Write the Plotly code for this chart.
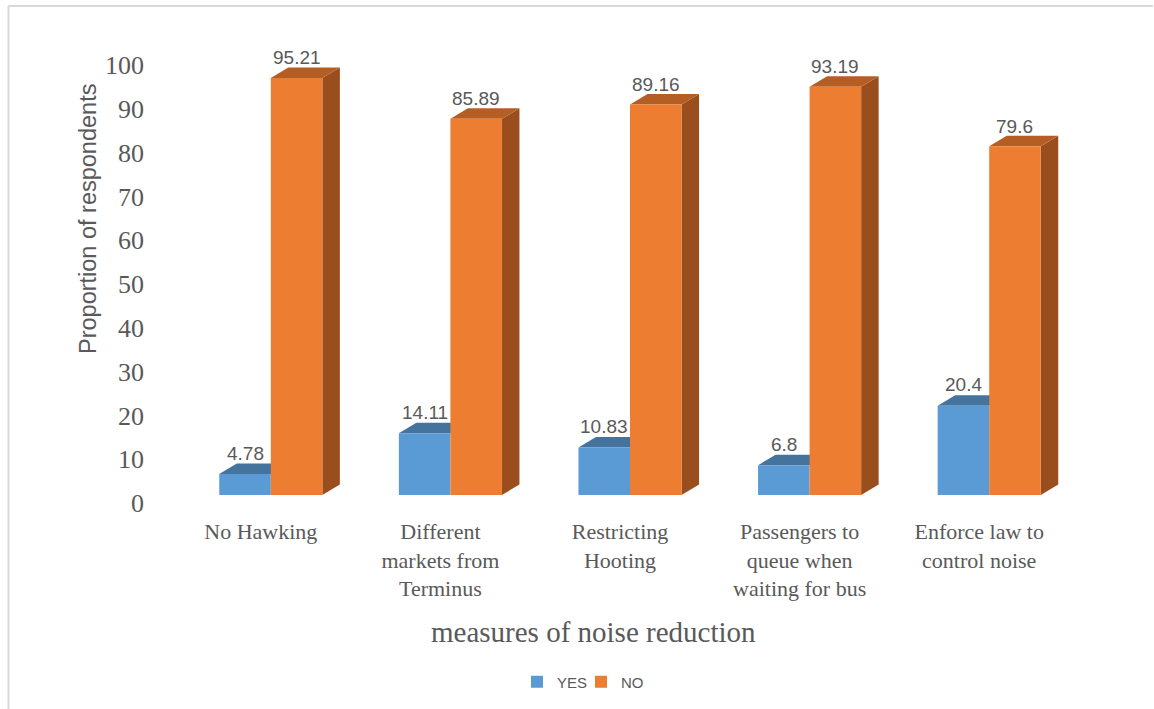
import plotly.graph_objects as go

categories = ["No Hawking", "Different<br>markets from<br>Terminus", "Restricting<br>Hooting",
              "Passengers to<br>queue when<br>waiting for bus", "Enforce law to<br>control noise"]
yes_values = [4.78, 14.11, 10.83, 6.8, 20.4]
no_values = [95.21, 85.89, 89.16, 93.19, 79.6]
y_ticks = [0, 10, 20, 30, 40, 50, 60, 70, 80, 90, 100]

BLUE_FRONT, BLUE_TOP = "#5B9BD5", "#44749E"
ORANGE_FRONT, ORANGE_TOP, ORANGE_SIDE = "#ED7D31", "#B55E23", "#9A4E1E"
TEXT = "#595959"

W, H = 1154, 709
ML, MR, MT, MB = 181, 75, 57, 214
plot_w = W - ML - MR
plot_h = H - MT - MB
n = len(categories)
x_range = [-0.5, n - 0.5]
y_range = [0, 100]
px_per_x = plot_w / (x_range[1] - x_range[0])
px_per_y = plot_h / (y_range[1] - y_range[0])

bargap = 0.426
w = (1 - bargap) / 2          # width of one bar in x units
dx = 17.5 / px_per_x          # depth offset (x units)
dy = 10.5 / px_per_y          # depth offset (y units)

xs = list(range(n))

fig = go.Figure()
fig.add_trace(go.Bar(name="YES", x=xs, y=yes_values, marker_color=BLUE_FRONT,
                     marker_line_width=0, offsetgroup="yes", legend="legend"))
fig.add_trace(go.Bar(name="NO", x=xs, y=no_values, marker_color=ORANGE_FRONT,
                     marker_line_width=0, offsetgroup="no", legend="legend2"))

shapes = []

def poly(points, color):
    path = "M " + " L ".join(f"{px},{py}" for px, py in points) + " Z"
    return dict(type="path", path=path, xref="x", yref="y", fillcolor=color,
                line=dict(width=0), layer="below")

for i in xs:
    yv, nv = yes_values[i], no_values[i]
    b0, b1 = i - w, i
    o0, o1 = i, i + w
    # blue top face
    shapes.append(poly([(b0, yv), (b1, yv), (b1 + dx, yv + dy), (b0 + dx, yv + dy)], BLUE_TOP))
    # orange side face
    shapes.append(poly([(o1, 0), (o1, nv), (o1 + dx, nv + dy), (o1 + dx, dy)], ORANGE_SIDE))
    # orange top face
    shapes.append(poly([(o0, nv), (o1, nv), (o1 + dx, nv + dy), (o0 + dx, nv + dy)], ORANGE_TOP))

# frame lines
shapes.append(dict(type="line", xref="paper", yref="paper",
                   x0=(8 - ML) / plot_w, x1=(1153 - ML) / plot_w,
                   y0=(H - MB - 6) / plot_h, y1=(H - MB - 6) / plot_h,
                   line=dict(color="#D9D9D9", width=2)))
shapes.append(dict(type="line", xref="paper", yref="paper",
                   x0=(8.5 - ML) / plot_w, x1=(8.5 - ML) / plot_w,
                   y0=(H - MB - 6) / plot_h, y1=(H - MB - H) / plot_h,
                   line=dict(color="#D9D9D9", width=2)))

annotations = []
for i in xs:
    annotations.append(dict(x=i - w / 2, y=yes_values[i], xref="x", yref="y",
                            text=f"{yes_values[i]:g}", showarrow=False, yshift=21,
                            font=dict(family="Liberation Sans", size=19, color=TEXT)))
    annotations.append(dict(x=i + w / 2, y=no_values[i], xref="x", yref="y",
                            text=f"{no_values[i]:g}", showarrow=False, yshift=20,
                            font=dict(family="Liberation Sans", size=19, color=TEXT)))

annotations.append(dict(text="Proportion of respondents", textangle=-90, showarrow=False,
                        xref="paper", yref="paper", x=(88 - ML) / plot_w,
                        y=(H - MB - 219) / plot_h, xanchor="center", yanchor="middle",
                        font=dict(family="Liberation Sans", size=23.5, color=TEXT)))
annotations.append(dict(text="measures of noise reduction", showarrow=False,
                        xref="paper", yref="paper", x=(593 - ML) / plot_w,
                        y=(H - MB - 632) / plot_h, xanchor="center", yanchor="middle",
                        font=dict(family="Liberation Serif", size=29, color=TEXT)))

legend_common = dict(orientation="h", xanchor="left", yanchor="middle",
                     y=(H - MB - 682) / plot_h, itemwidth=30, bgcolor="rgba(0,0,0,0)",
                     font=dict(family="Liberation Sans", size=15, color=TEXT))

fig.update_layout(
    width=W, height=H,
    margin=dict(l=ML, r=MR, t=MT, b=MB, autoexpand=False),
    paper_bgcolor="white", plot_bgcolor="white",
    barmode="group", bargap=bargap, bargroupgap=0,
    showlegend=True,
    legend=dict(x=(517 - ML) / plot_w, **legend_common),
    legend2=dict(x=(581 - ML) / plot_w, **legend_common),
    xaxis=dict(range=x_range, tickmode="array", tickvals=xs, ticktext=categories,
               showgrid=False, zeroline=False, showline=False, ticks="",
               ticklabelstandoff=21, ticklabelshift=-10,
               tickfont=dict(family="Liberation Serif", size=22, color=TEXT)),
    yaxis=dict(range=y_range, tickmode="array", tickvals=y_ticks,
               showgrid=False, zeroline=False, showline=False, ticks="",
               ticklabelstandoff=36, ticklabelshift=8,
               tickfont=dict(family="Liberation Serif", size=26, color=TEXT)),
    shapes=shapes, annotations=annotations,
    hovermode=False,
)

fig.write_html("out.html", config={"displayModeBar": False},
               post_script="document.body.style.margin='0px';")
